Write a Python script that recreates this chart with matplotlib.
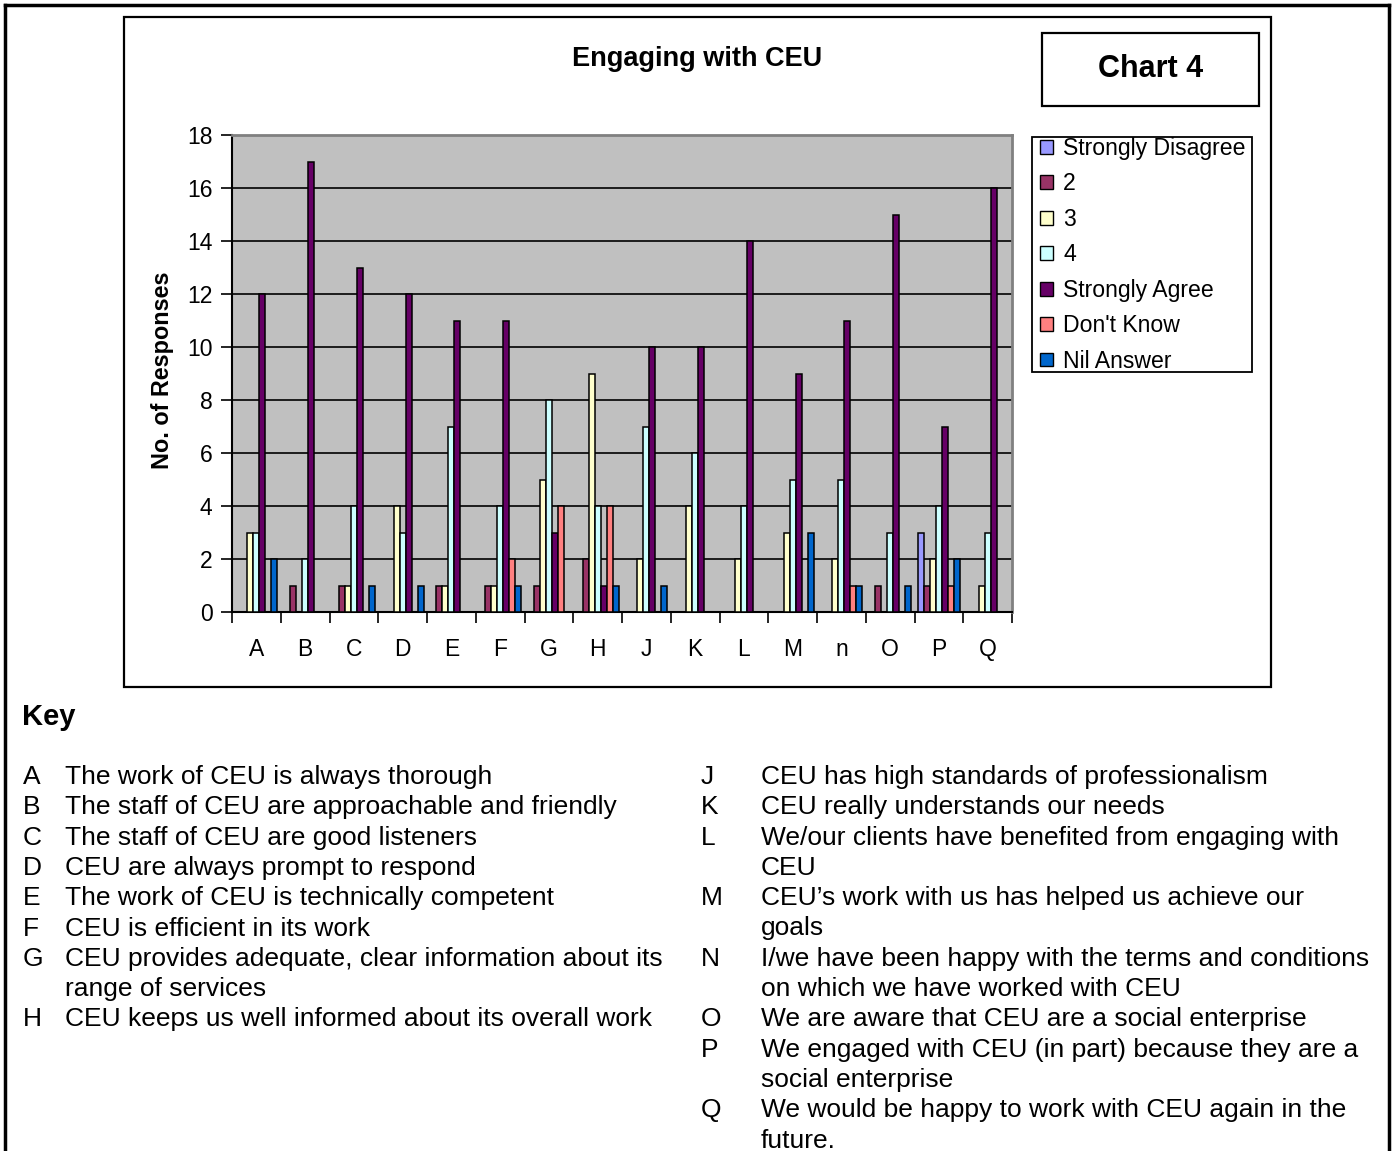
import matplotlib
matplotlib.use("Agg")
import matplotlib.pyplot as plt
from matplotlib.patches import Patch, Rectangle
from matplotlib.lines import Line2D
import numpy as np

plt.rcParams['font.family'] = ['Liberation Sans', 'DejaVu Sans']

# ---- data ----
categories = ["A", "B", "C", "D", "E", "F", "G", "H", "J", "K", "L", "M", "n", "O", "P", "Q"]
series_names = ["Strongly Disagree", "2", "3", "4", "Strongly Agree", "Don't Know", "Nil Answer"]
strongly_disagree = [0, 0, 0, 0, 0, 0, 0, 0, 0, 0, 0, 0, 0, 0, 3, 0]
score_2 = [0, 1, 1, 0, 1, 1, 1, 2, 0, 0, 0, 0, 0, 1, 1, 0]
score_3 = [3, 0, 1, 4, 1, 1, 5, 9, 2, 4, 2, 3, 2, 0, 2, 1]
score_4 = [3, 2, 4, 3, 7, 4, 8, 4, 7, 6, 4, 5, 5, 3, 4, 3]
strongly_agree = [12, 17, 13, 12, 11, 11, 3, 1, 10, 10, 14, 9, 11, 15, 7, 16]
dont_know = [0, 0, 0, 0, 0, 2, 4, 4, 0, 0, 0, 0, 1, 0, 1, 0]
nil_answer = [2, 0, 1, 1, 0, 1, 0, 1, 1, 0, 0, 3, 1, 1, 2, 0]
series_values = [strongly_disagree, score_2, score_3, score_4,
                 strongly_agree, dont_know, nil_answer]
series_colors = ["#9999FF", "#993366", "#FFFFCC", "#CCFFFF",
                 "#660066", "#FF8080", "#0066CC"]

key_left = [
    ("A", "The work of CEU is always thorough"),
    ("B", "The staff of CEU are approachable and friendly"),
    ("C", "The staff of CEU are good listeners"),
    ("D", "CEU are always prompt to respond"),
    ("E", "The work of CEU is technically competent"),
    ("F", "CEU is efficient in its work"),
    ("G", "CEU provides adequate, clear information about its"),
    ("", "range of services"),
    ("H", "CEU keeps us well informed about its overall work"),
]
key_right = [
    ("J", "CEU has high standards of professionalism"),
    ("K", "CEU really understands our needs"),
    ("L", "We/our clients have benefited from engaging with"),
    ("", "CEU"),
    ("M", "CEU\u2019s work with us has helped us achieve our"),
    ("", "goals"),
    ("N", "I/we have been happy with the terms and conditions"),
    ("", "on which we have worked with CEU"),
    ("O", "We are aware that CEU are a social enterprise"),
    ("P", "We engaged with CEU (in part) because they are a"),
    ("", "social enterprise"),
    ("Q", "We would be happy to work with CEU again in the"),
    ("", "future."),
]

# ---- figure, in pixel units ----
W, H = 1394, 1151
fig = plt.figure(figsize=(W / 100, H / 100), dpi=100)
fig.patch.set_facecolor("white")


def fx(x):
    return x / W


def fy(y):
    return 1 - y / H


def hline(x0, x1, y, lw, color="black"):
    fig.add_artist(Line2D([fx(x0), fx(x1)], [fy(y), fy(y)], lw=lw, color=color,
                          transform=fig.transFigure, solid_capstyle="projecting"))


def vline(x, y0, y1, lw, color="black"):
    fig.add_artist(Line2D([fx(x), fx(x)], [fy(y0), fy(y1)], lw=lw, color=color,
                          transform=fig.transFigure, solid_capstyle="projecting"))


def box(x0, y0, x1, y1, lw):
    fig.add_artist(Rectangle((fx(x0), fy(y1)), fx(x1) - fx(x0), fy(y0) - fy(y1),
                             transform=fig.transFigure, fill=False,
                             edgecolor="black", lw=lw))


# page border (open at the bottom)
hline(5, 1389, 5, 2.5)
vline(5, 5, 1151, 2.5)
vline(1389, 5, 1151, 2.5)

# chart frame
box(124, 17, 1271, 687, 1.6)

# ---- bar chart ----
ax = fig.add_axes([fx(232), fy(612), fx(1012) - fx(232), fy(135) - fy(612)])
ax.set_facecolor("#C0C0C0")
x = np.arange(len(categories))
bw = 0.123
for i, (name, vals, col) in enumerate(zip(series_names, series_values, series_colors)):
    ax.bar(x + (i - 3) * bw, vals, width=bw, color=col, edgecolor="black",
           linewidth=1.1, label=name, zorder=3)

ax.set_xlim(-0.5, len(categories) - 0.5)
ax.set_ylim(0, 18)
ax.set_yticks(np.arange(0, 19, 2))
ax.yaxis.grid(True, color="black", lw=1.2, zorder=1)
ax.set_axisbelow(True)
ax.tick_params(axis="y", direction="out", length=8, width=1.2, labelsize=16.5, pad=6)

ax.set_xticks(np.arange(-0.5, len(categories), 1.0))
ax.set_xticklabels([])
ax.set_xticks(x, minor=True)
ax.set_xticklabels(categories, minor=True)
ax.tick_params(axis="x", which="major", direction="out", length=8, width=1.2)
ax.tick_params(axis="x", which="minor", length=0, labelsize=16.5, pad=19)

for s in ("top", "right"):
    ax.spines[s].set_color("#808080")
    ax.spines[s].set_linewidth(2)
for s in ("left", "bottom"):
    ax.spines[s].set_color("black")
    ax.spines[s].set_linewidth(1.5)

fig.text(fx(163), fy(370), "No. of Responses", rotation=90, ha="center", va="center",
         fontsize=16.8, fontweight="bold")

fig.text(fx(697), fy(66), "Engaging with CEU", ha="center", va="baseline",
         fontsize=19.5, fontweight="bold")

# "Chart 4" label box
box(1042, 33, 1259, 106, 1.6)
fig.text(fx(1151), fy(77), "Chart 4", ha="center", va="baseline",
         fontsize=22, fontweight="bold")

# legend: entries placed without a frame, box drawn around them
handles = [Patch(facecolor=c, edgecolor="black", lw=1.0) for c in series_colors]
leg = fig.legend(handles, series_names, loc="upper left",
                 bbox_to_anchor=(fx(1040), fy(137)), bbox_transform=fig.transFigure,
                 fontsize=16.6, frameon=False,
                 borderpad=0.0, labelspacing=0.54, handlelength=0.55, handleheight=0.55,
                 handletextpad=0.45, borderaxespad=0.0)
box(1032, 137, 1252, 372, 1.3)

# ---- key ----
fig.text(fx(22), fy(725), "Key", ha="left", va="baseline", fontsize=21, fontweight="bold")

step = 30.3
for j, (letter, desc) in enumerate(key_left):
    yb = 784 + j * step
    if letter:
        fig.text(fx(23), fy(yb), letter, ha="left", va="baseline", fontsize=19)
    fig.text(fx(65), fy(yb), desc, ha="left", va="baseline", fontsize=19)

for j, (letter, desc) in enumerate(key_right):
    yb = 784 + j * step
    if letter:
        fig.text(fx(701), fy(yb), letter, ha="left", va="baseline", fontsize=19)
    fig.text(fx(761), fy(yb), desc, ha="left", va="baseline", fontsize=19)

fig.savefig("out.png", dpi=100, facecolor="white")
